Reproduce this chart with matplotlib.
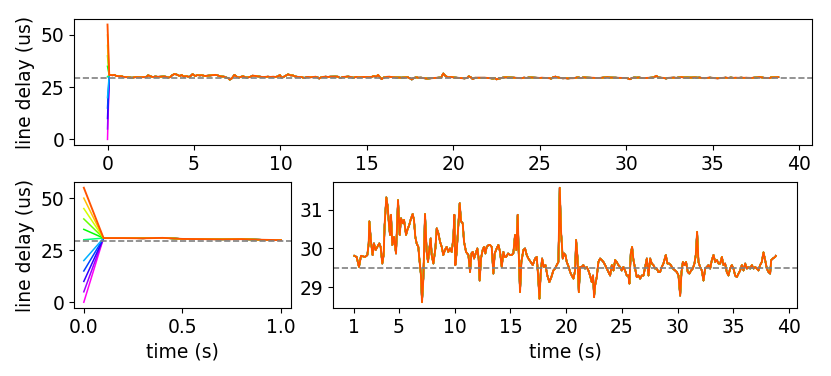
import matplotlib
matplotlib.use("Agg")
import matplotlib.pyplot as plt
import numpy as np

# initial line delays (us), one run each
start_delays = [0, 5, 10, 15, 20, 30, 35, 40, 45, 50, 55]
target_delay = 29.5

# time (s) / delay (us) after the first step
t_trace = [0.1, 0.2, 0.3, 0.4, 0.5, 0.6, 0.7, 0.8, 0.9,
           1.00, 1.21, 1.42, 1.60, 1.96, 2.17, 2.29, 2.35, 2.50, 2.64, 2.76, 2.91, 3.06, 3.24, 3.36,
           3.51, 3.63, 3.72, 3.87, 3.99, 4.11, 4.20, 4.29, 4.41, 4.56, 4.74, 4.92, 5.07, 5.19, 5.34,
           5.46, 5.64, 5.76, 5.93, 6.05, 6.23, 6.35, 6.47, 6.59, 6.74, 6.83, 6.98, 7.07, 7.19, 7.34,
           7.49, 7.61, 7.73, 7.85, 7.94, 8.09, 8.27, 8.39, 8.54, 8.69, 8.84, 8.98, 9.13, 9.28, 9.43,
           9.58, 9.73, 9.88, 9.97, 10.06, 10.18, 10.33, 10.45, 10.57, 10.72, 10.84, 11.02, 11.23,
           11.38, 11.50, 11.62, 11.74, 11.89, 12.03, 12.15, 12.24, 12.36, 12.51, 12.63, 12.75, 12.87,
           13.05, 13.17, 13.32, 13.47, 13.59, 13.77, 13.92, 14.07, 14.22, 14.37, 14.49, 14.61, 14.79,
           14.97, 15.11, 15.26, 15.41, 15.53, 15.65, 15.74, 15.86, 15.98, 16.16, 16.31, 16.46, 16.61,
           16.82, 17.00, 17.21, 17.36, 17.48, 17.60, 17.72, 17.84, 17.99, 18.14, 18.31, 18.49, 18.67,
           18.85, 19.00, 19.15, 19.30, 19.42, 19.54, 19.69, 19.81, 19.93, 20.05, 20.23, 20.35, 20.50,
           20.65, 20.80, 20.89, 21.01, 21.13, 21.25, 21.39, 21.54, 21.69, 21.84, 21.99, 22.14, 22.29,
           22.41, 22.50, 22.59, 22.74, 22.89, 23.04, 23.19, 23.34, 23.49, 23.64, 23.79, 23.94, 24.09,
           24.24, 24.39, 24.53, 24.68, 24.83, 24.98, 25.13, 25.28, 25.43, 25.58, 25.67, 25.79, 25.91,
           26.03, 26.18, 26.33, 26.48, 26.63, 26.78, 26.93, 27.08, 27.23, 27.38, 27.53, 27.67, 27.82,
           27.97, 28.12, 28.27, 28.42, 28.57, 28.72, 28.93, 29.08, 29.23, 29.38, 29.56, 29.77, 29.92,
           30.07, 30.22, 30.34, 30.46, 30.61, 30.75, 30.90, 31.05, 31.20, 31.35, 31.50, 31.62, 31.74,
           31.86, 32.01, 32.16, 32.31, 32.46, 32.61, 32.76, 32.91, 33.06, 33.21, 33.36, 33.51, 33.66,
           33.81, 33.96, 34.10, 34.25, 34.40, 34.55, 34.70, 34.85, 35.00, 35.15, 35.30, 35.45, 35.60,
           35.75, 35.90, 36.05, 36.20, 36.35, 36.50, 36.65, 36.80, 36.95, 37.09, 37.24, 37.39, 37.54,
           37.69, 37.84, 37.99, 38.14, 38.29, 38.38, 38.53, 38.74, 38.80]
d_trace = [30.8, 30.8, 30.7, 30.9, 30.4, 30.3, 30.2, 30.3, 30.0,
           29.81, 29.78, 29.52, 29.81, 29.78, 29.83, 30.13, 30.70, 30.17, 29.83, 30.13, 29.96, 30.04,
           30.13, 30.04, 29.61, 29.83, 30.61, 31.32, 31.09, 30.61, 30.35, 30.87, 30.09, 30.30, 29.87,
           31.25, 30.35, 30.78, 30.65, 30.74, 30.35, 30.48, 30.61, 30.74, 30.89, 30.74, 30.30, 30.13,
           30.04, 29.74, 29.30, 28.61, 29.22, 30.89, 29.91, 29.65, 30.00, 30.26, 29.83, 29.61, 30.00,
           30.52, 30.39, 30.17, 30.04, 29.83, 29.96, 30.04, 29.91, 30.00, 29.91, 30.26, 30.87, 29.57,
           29.91, 30.61, 31.17, 30.70, 30.65, 30.17, 29.91, 29.83, 29.39, 29.87, 29.91, 29.74, 29.87,
           30.00, 29.74, 29.17, 29.74, 29.96, 30.04, 29.87, 30.04, 30.09, 30.09, 30.04, 29.35, 29.87,
           30.00, 30.09, 29.91, 29.52, 29.91, 29.78, 29.78, 29.87, 29.83, 29.83, 29.87, 30.35, 29.96,
           30.87, 29.91, 28.87, 29.65, 29.96, 30.00, 29.83, 29.74, 29.65, 29.57, 29.74, 29.78, 29.30,
           28.70, 29.39, 29.74, 29.52, 29.57, 29.30, 29.13, 29.26, 29.43, 29.48, 29.57, 29.65, 31.57,
           30.43, 29.74, 29.87, 29.83, 29.65, 29.52, 29.39, 29.30, 29.22, 29.43, 30.22, 29.78, 28.87,
           29.52, 29.52, 29.57, 29.48, 29.52, 29.43, 29.30, 29.13, 29.30, 28.74, 29.04, 29.26, 29.65,
           29.74, 29.70, 29.65, 29.57, 29.48, 29.39, 29.30, 29.57, 29.43, 29.70, 29.65, 29.57, 29.52,
           29.43, 29.52, 29.43, 29.30, 29.30, 29.09, 29.87, 30.04, 29.70, 29.48, 29.26, 29.30, 29.22,
           29.30, 29.30, 29.52, 29.74, 29.30, 29.74, 29.61, 29.57, 29.48, 29.48, 29.39, 29.39, 29.52,
           29.61, 29.83, 29.61, 29.61, 29.57, 29.48, 29.43, 29.39, 29.30, 28.78, 29.39, 29.65, 29.57,
           29.65, 29.39, 29.35, 29.43, 29.48, 29.61, 29.83, 30.43, 29.65, 29.52, 29.43, 29.17, 29.48,
           29.52, 29.57, 29.48, 29.70, 29.83, 29.65, 29.70, 29.61, 29.61, 29.78, 29.57, 29.61, 29.39,
           29.30, 29.48, 29.57, 29.48, 29.30, 29.26, 29.35, 29.43, 29.57, 29.43, 29.61, 29.48, 29.52,
           29.48, 29.57, 29.48, 29.52, 29.48, 29.43, 29.57, 29.65, 29.90, 29.70, 29.48, 29.39, 29.35,
           29.70, 29.74, 29.78, 29.81]

plt.rcParams['font.size'] = 13.5

t_trace = np.array(t_trace)
d_trace = np.array(d_trace)
cmap = plt.get_cmap('gist_rainbow')

fig = plt.figure(figsize=(8.31, 3.76), dpi=100)
ax_top = fig.add_axes([0.089, 0.614, 0.888, 0.336])
ax_zoom = fig.add_axes([0.089, 0.181, 0.261, 0.335])
ax_tail = fig.add_axes([0.401, 0.181, 0.558, 0.335])

for i, d0 in enumerate(start_delays):
    col = cmap(0.09 + (55 - d0) / 5 * 0.079)
    # last run drawn a touch wider so the ones below don't fringe it
    lw = 1.35 if i == len(start_delays) - 1 else 1.1
    t = np.concatenate([[0.0], t_trace])
    d = np.concatenate([[d0], d_trace])
    ax_top.plot(t, d, color=col, lw=lw)
    early = t <= 1.0
    ax_zoom.plot(t[early], d[early], color=col, lw=lw)
    late = t >= 1.0
    ax_tail.plot(t[late], d[late], color=col, lw=lw)

for ax in (ax_top, ax_zoom, ax_tail):
    ax.axhline(target_delay, color='gray', linestyle='--', lw=1.2)

ax_top.set_ylabel('line delay (us)')
ax_top.set_xticks(np.arange(0, 41, 5))
ax_top.set_yticks([0, 25, 50])

ax_zoom.set_ylabel('line delay (us)')
ax_zoom.set_xlabel('time (s)')
ax_zoom.set_xticks([0.0, 0.5, 1.0])
ax_zoom.set_yticks([0, 25, 50])

ax_tail.set_xlabel('time (s)')
ax_tail.set_xticks([1, 5, 10, 15, 20, 25, 30, 35, 40])
ax_tail.set_yticks([29, 30, 31])

fig.savefig('out.png', dpi=100)
